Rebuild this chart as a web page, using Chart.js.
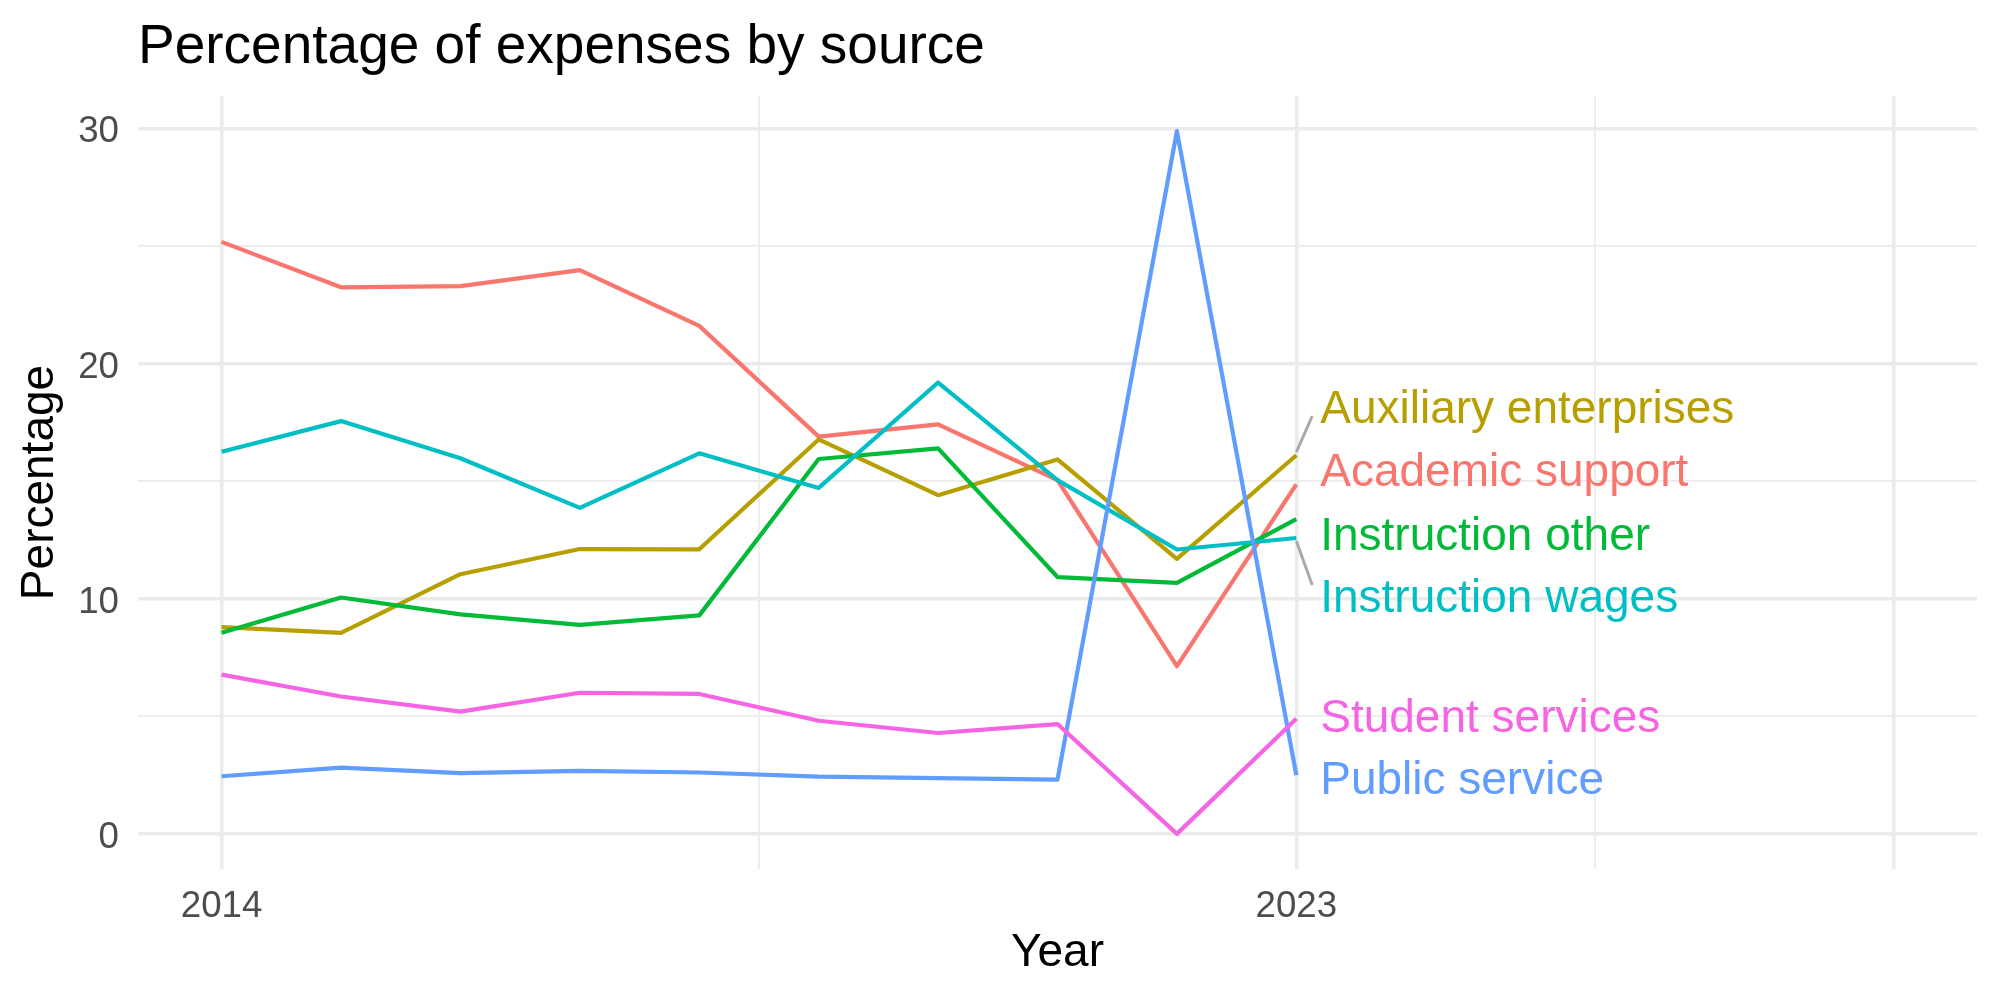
<!DOCTYPE html>
<html>
<head>
<meta charset="utf-8">
<title>Percentage of expenses by source</title>
<script src="https://cdn.jsdelivr.net/npm/chart.js@4.4.0/dist/chart.umd.min.js"></script>
<style>
    html, body { margin: 0; padding: 0; background: #ffffff; }
    canvas { display: block; }
</style>
</head>
<body>
<canvas id="expensesChart" width="2000" height="1000"></canvas>
<script>
// ==========================================
// DATA
// ==========================================

const years = [2014, 2015, 2016, 2017, 2018, 2019, 2020, 2021, 2022, 2023];

// Series names (alphabetical, same order as the colour scale)
const sources = [
    'Academic support',
    'Auxiliary enterprises',
    'Instruction other',
    'Instruction wages',
    'Public service',
    'Student services'
];

const academicSupport      = [25.17, 23.24, 23.29, 23.97, 21.60, 16.89, 17.41, 15.04, 7.13, 14.86];
const auxiliaryEnterprises = [8.79, 8.55, 11.04, 12.11, 12.10, 16.77, 14.40, 15.92, 11.69, 16.10];
const instructionOther     = [8.55, 10.05, 9.33, 8.89, 9.29, 15.94, 16.39, 10.92, 10.67, 13.38];
const instructionWages     = [16.25, 17.55, 15.97, 13.86, 16.18, 14.71, 19.19, 15.04, 12.09, 12.58];
const publicService        = [2.45, 2.82, 2.58, 2.68, 2.61, 2.43, 2.37, 2.31, 29.88, 2.50];
const studentServices      = [6.77, 5.84, 5.20, 6.00, 5.95, 4.81, 4.29, 4.67, 0.00, 4.89];

const seriesValues = [
    academicSupport, auxiliaryEnterprises, instructionOther,
    instructionWages, publicService, studentServices
];

// Axis breaks
const xLimits = [2014, 2028];
const xLabelBreaks = [2014, 2023];
const xExtraBreaks = [2028];        // major grid line, no label
const xMinorBreaks = [2018.5, 2025.5];
const yLabelBreaks = [0, 10, 20, 30];
const yMinorBreaks = [5, 15, 25];

// ==========================================
// STYLE / LAYOUT
// ==========================================

const sourceColors = ['#F8766D', '#B79F00', '#00BA38', '#00BFC4', '#619CFF', '#F564E3'];
const FONT = '"Liberation Sans", Arial, Helvetica, sans-serif';

// Where the repelled end labels sit (data units)
const labelX = 2023.2;
const labelY = [15.32, 18.02, 12.63, 9.97, 2.22, 4.88];

document.addEventListener('DOMContentLoaded', function() {

    const ctx = document.getElementById('expensesChart');
    if (!ctx) return;

    Chart.defaults.font.family = FONT;

    // ggplot style 5% expansion
    const allValues = seriesValues.flat();
    const yMin = Math.min(...allValues), yMax = Math.max(...allValues);
    const yPad = (yMax - yMin) * 0.05;
    const xPad = (xLimits[1] - xLimits[0]) * 0.05;

    const datasets = sources.map((name, i) => ({
        label: name,
        data: years.map((yr, k) => ({ x: yr, y: seriesValues[i][k] })),
        borderColor: sourceColors[i],
        backgroundColor: sourceColors[i],
        borderWidth: 4.2,
        borderJoinStyle: 'round',
        pointRadius: 0,
        tension: 0,
        fill: false,
        order: sources.length - 1 - i   // later series drawn on top
    }));

    // Title drawn above the panel, left aligned to it
    const titlePlugin = {
        id: 'plotTitle',
        afterDraw(chart) {
            const c = chart.ctx;
            c.save();
            c.font = '55px ' + FONT;
            c.fillStyle = '#000000';
            c.textAlign = 'left';
            c.textBaseline = 'alphabetic';
            c.fillText('Percentage of expenses by source', chart.chartArea.left, 63);
            c.restore();
        }
    };

    // Direct labels at the line ends, with leader segments when far off
    const endLabels = {
        id: 'endLabels',
        afterDatasetsDraw(chart) {
            const c = chart.ctx;
            const xs = chart.scales.x, ys = chart.scales.y;
            c.save();
            c.font = '46px ' + FONT;
            c.textAlign = 'left';
            c.textBaseline = 'middle';
            chart.data.datasets.forEach((ds, i) => {
                const last = ds.data[ds.data.length - 1];
                const px = xs.getPixelForValue(last.x);
                const py = ys.getPixelForValue(last.y);
                const lx = xs.getPixelForValue(labelX);
                const ly = ys.getPixelForValue(labelY[i]);
                const dy = ly - py;
                if (Math.abs(dy) > 30) {
                    const dir = Math.sign(dy);
                    c.strokeStyle = '#aaaaaa';
                    c.lineWidth = 3;
                    c.beginPath();
                    c.moveTo(px, py + dir * 3);
                    c.lineTo(lx - 8, ly + (dir < 0 ? 6 : -14.5));
                    c.stroke();
                }
                c.fillStyle = ds.borderColor;
                c.fillText(ds.label, lx, ly);
            });
            c.restore();
        }
    };

    new Chart(ctx, {
        type: 'line',
        data: { datasets: datasets },
        options: {
            responsive: false,
            animation: false,
            devicePixelRatio: 1,
            layout: { padding: { left: 0, right: 23, top: 96, bottom: 0 } },
            plugins: {
                legend: { display: false },
                title: { display: false },
                tooltip: { enabled: false }
            },
            scales: {
                x: {
                    type: 'linear',
                    min: xLimits[0] - xPad,
                    max: xLimits[1] + xPad,
                    afterBuildTicks: function(scale) {
                        scale.ticks = [...xLabelBreaks, ...xExtraBreaks, ...xMinorBreaks]
                            .sort((a, b) => a - b)
                            .map(v => ({ value: v }));
                    },
                    afterFit: function(scale) { scale.height = 131; },
                    border: { display: false },
                    grid: {
                        color: '#EBEBEB',
                        drawTicks: false,
                        lineWidth: c => xMinorBreaks.includes(c.tick.value) ? 1.8 : 3.5
                    },
                    ticks: {
                        autoSkip: false,
                        maxRotation: 0,
                        padding: 16,
                        color: '#4D4D4D',
                        font: { size: 36.7 },
                        callback: v => xLabelBreaks.includes(v) ? String(v) : ''
                    },
                    title: {
                        display: true,
                        text: 'Year',
                        color: '#000000',
                        font: { size: 46 },
                        padding: { top: 0, bottom: 19 }
                    }
                },
                y: {
                    type: 'linear',
                    min: yMin - yPad,
                    max: yMax + yPad,
                    afterBuildTicks: function(scale) {
                        scale.ticks = [...yLabelBreaks, ...yMinorBreaks]
                            .sort((a, b) => a - b)
                            .map(v => ({ value: v }));
                    },
                    afterFit: function(scale) { scale.width = 138; },
                    border: { display: false },
                    grid: {
                        color: '#EBEBEB',
                        drawTicks: false,
                        lineWidth: c => yMinorBreaks.includes(c.tick.value) ? 1.8 : 3.5
                    },
                    ticks: {
                        autoSkip: false,
                        padding: 19,
                        labelOffset: 4,
                        color: '#4D4D4D',
                        font: { size: 36.7 },
                        callback: v => yLabelBreaks.includes(v) ? String(v) : ''
                    },
                    title: {
                        display: true,
                        text: 'Percentage',
                        color: '#000000',
                        font: { size: 46 },
                        padding: { top: 12.5, bottom: 0 }
                    }
                }
            }
        },
        plugins: [titlePlugin, endLabels]
    });
});
</script>
</body>
</html>
